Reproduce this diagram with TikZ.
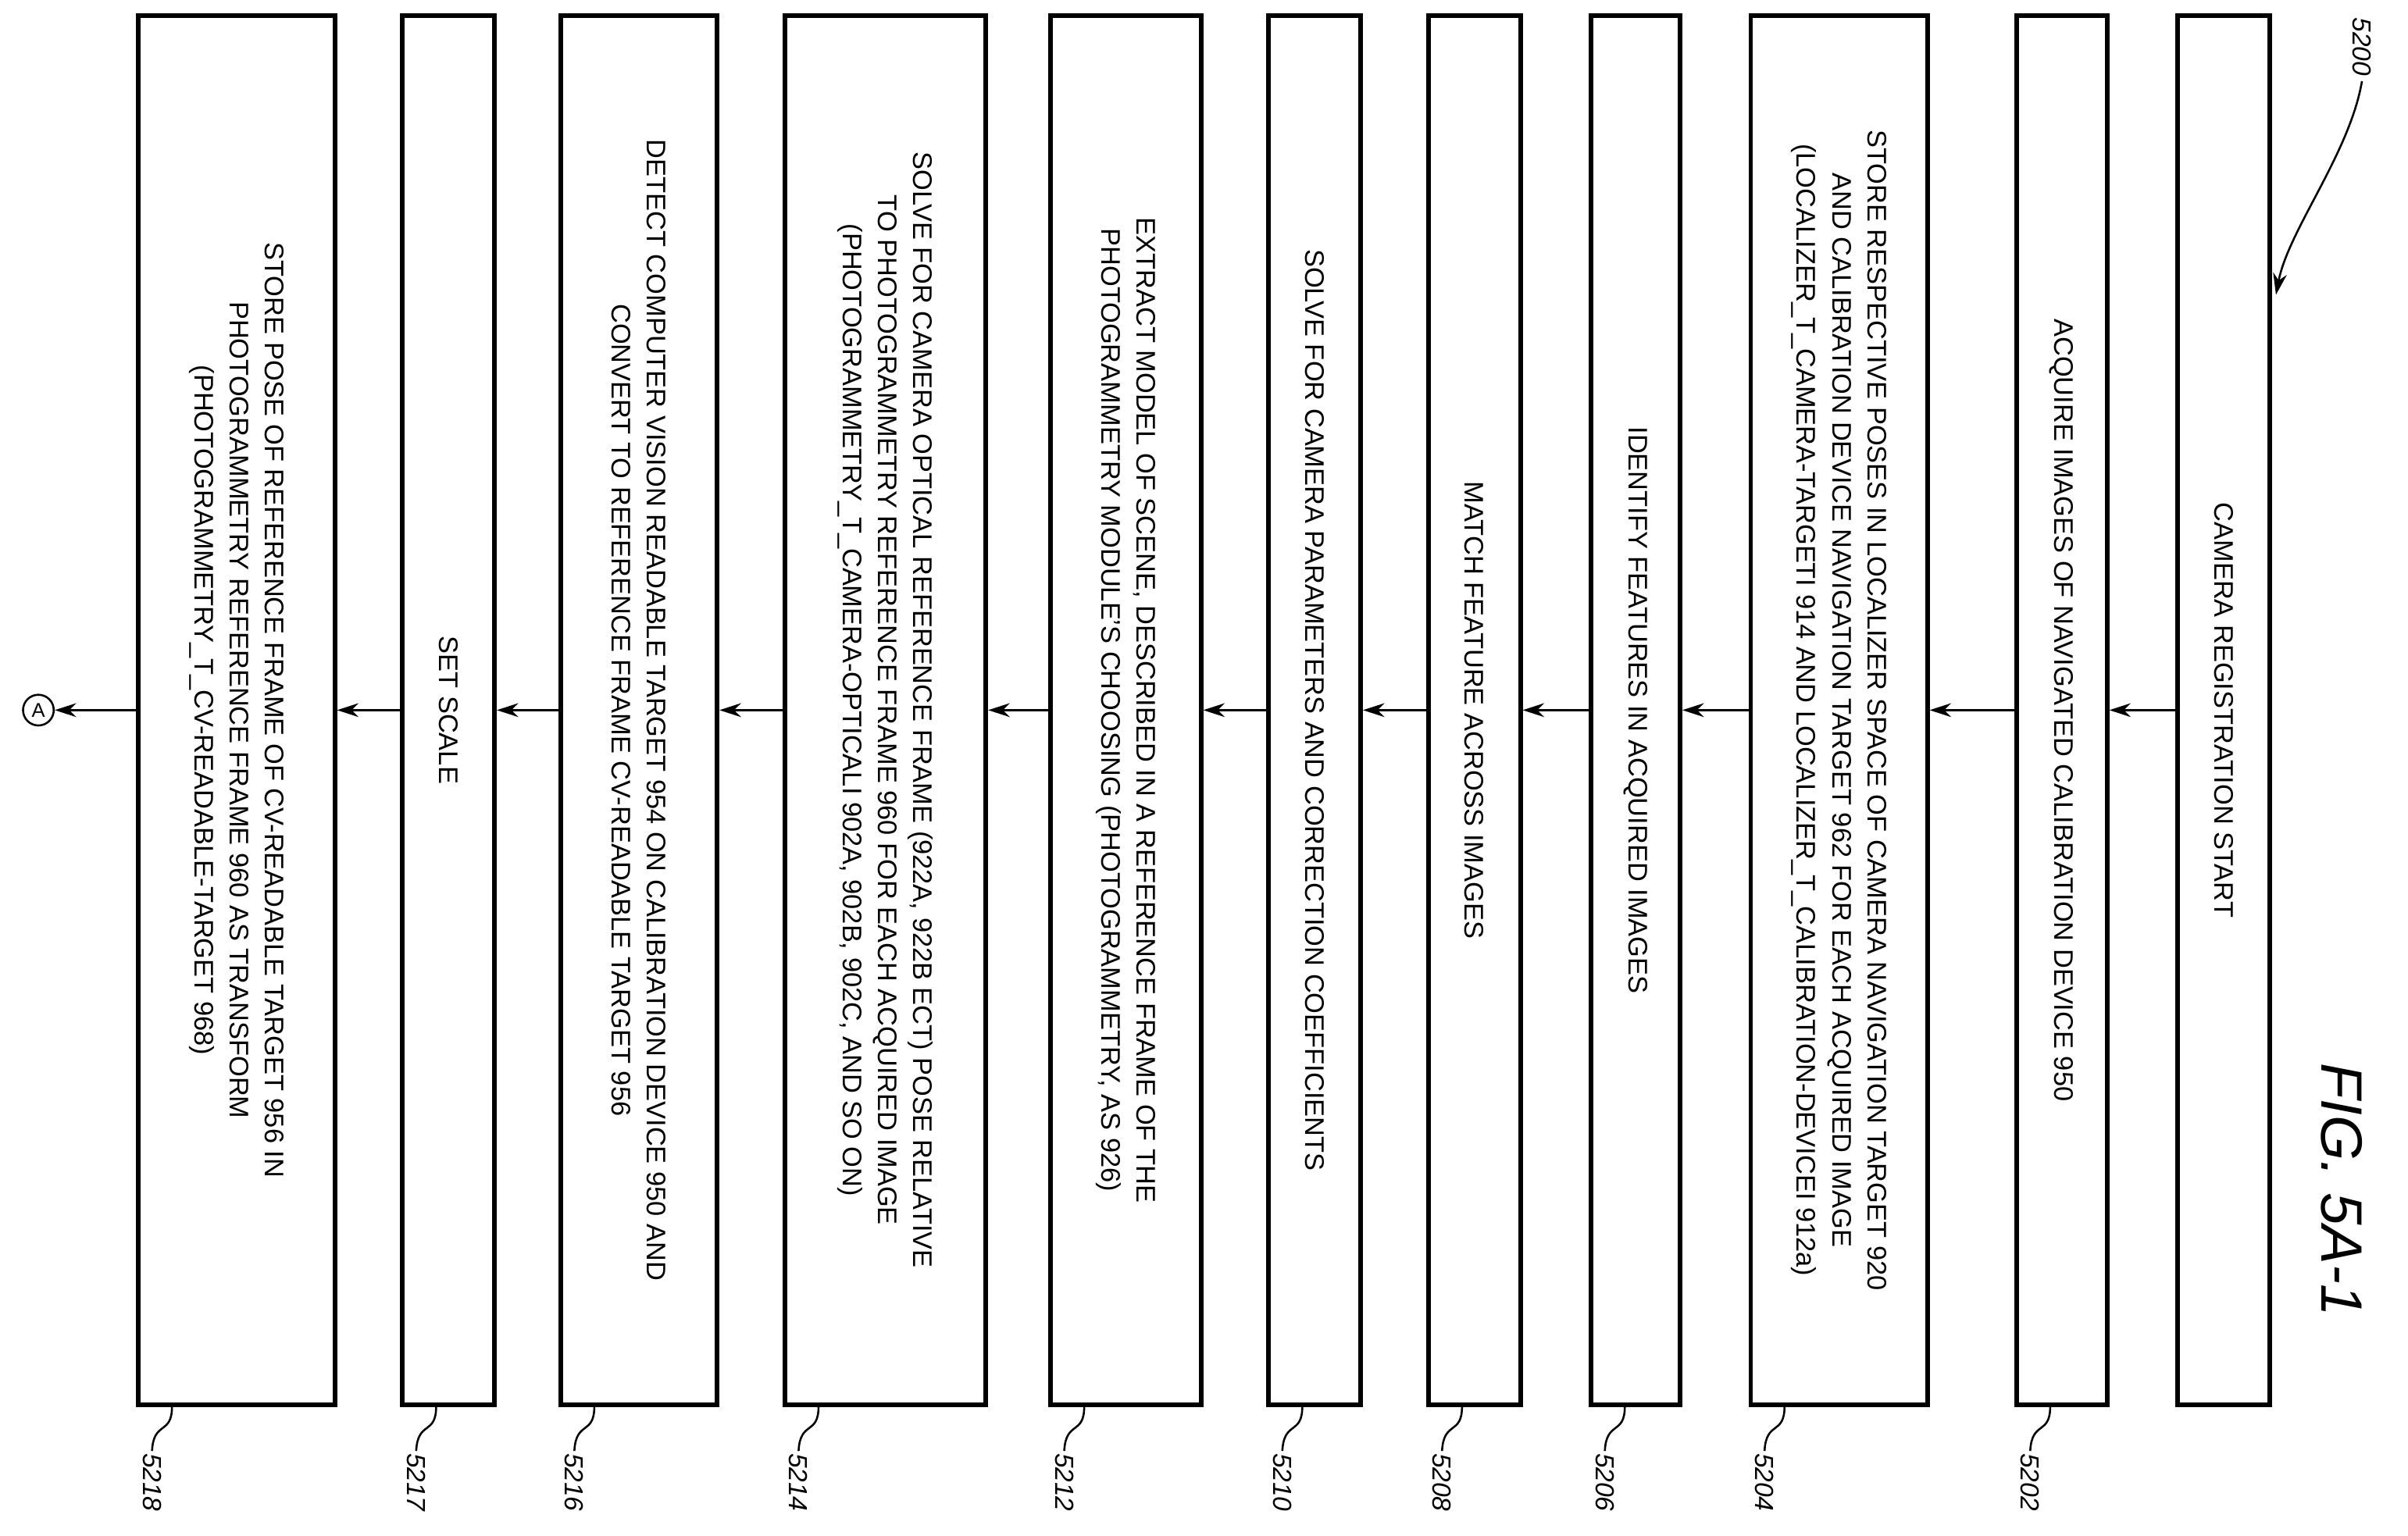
\documentclass[tikz,border=0pt]{standalone}
\usepackage{fontspec}
\setmainfont{Liberation Sans}
\usetikzlibrary{arrows.meta}
\tikzset{
  stepbox/.style={draw, line width=3pt, rotate=-90, minimum width=905pt, inner sep=2pt,
    align=center, font=\fontsize{17.5}{23}\selectfont},
  flow/.style={-{Stealth[length=14pt,width=9pt]}, line width=1.3pt},
  reflabel/.style={rotate=-90, anchor=west, font=\fontsize{17}{20}\selectfont\itshape},
  hook/.style={line width=1.3pt}
}
\begin{document}
\begin{tikzpicture}[x=1pt,y=-1pt]
\useasboundingbox (0,0) rectangle (1568,1000);
% boxes, right to left
\node[stepbox, minimum height=60pt] (b5200) at (1448,462.5) {CAMERA REGISTRATION START};
\node[stepbox, minimum height=59pt] (b5202) at (1342.5,462.5) {ACQUIRE IMAGES OF NAVIGATED CALIBRATION DEVICE 950};
\node[stepbox, minimum height=115pt] (b5204) at (1197.5,462.5) {STORE RESPECTIVE POSES IN LOCALIZER SPACE OF CAMERA NAVIGATION TARGET 920\\AND CALIBRATION DEVICE NAVIGATION TARGET 962 FOR EACH ACQUIRED IMAGE\\(LOCALIZER\_T\_CAMERA-TARGETI 914 AND LOCALIZER\_T\_CALIBRATION-DEVICEI 912a)};
\node[stepbox, minimum height=58pt] (b5206) at (1065,462.5) {IDENTIFY FEATURES IN ACQUIRED IMAGES};
\node[stepbox, minimum height=60pt] (b5208) at (960,462.5) {MATCH FEATURE ACROSS IMAGES};
\node[stepbox, minimum height=60pt] (b5210) at (856,462.5) {SOLVE FOR CAMERA PARAMETERS AND CORRECTION COEFFICIENTS};
\node[stepbox, minimum height=98pt] (b5212) at (733,462.5) {EXTRACT MODEL OF SCENE, DESCRIBED IN A REFERENCE FRAME OF THE\\PHOTOGRAMMETRY MODULE'S CHOOSING (PHOTOGRAMMETRY, AS 926)};
\node[stepbox, minimum height=131pt] (b5214) at (576.5,462.5) {SOLVE FOR CAMERA OPTICAL REFERENCE FRAME (922A, 922B ECT) POSE RELATIVE\\TO PHOTOGRAMMETRY REFERENCE FRAME 960 FOR EACH ACQUIRED IMAGE\\(PHOTOGRAMMETRY\_T\_CAMERA-OPTICALI 902A, 902B, 902C, AND SO ON)};
\node[stepbox, minimum height=102pt] (b5216) at (416,462.5) {DETECT COMPUTER VISION READABLE TARGET 954 ON CALIBRATION DEVICE 950 AND\\CONVERT TO REFERENCE FRAME CV-READABLE TARGET 956};
\node[stepbox, minimum height=60pt] (b5217) at (292,462.5) {SET SCALE};
\node[stepbox, minimum height=128pt] (b5218) at (154,462.5) {STORE POSE OF REFERENCE FRAME OF CV-READABLE TARGET 956 IN\\PHOTOGRAMMETRY REFERENCE FRAME 960 AS TRANSFORM\\(PHOTOGRAMMETRY\_T\_CV-READABLE-TARGET 968)};
\node[draw, circle, line width=1.3pt, inner sep=0pt, minimum size=20pt, font=\fontsize{13}{13}\selectfont] (endA) at (25,462.5) {A};
% connectors
\draw[flow] (b5200.south) -- (b5202.north);
\draw[flow] (b5202.south) -- (b5204.north);
\draw[flow] (b5204.south) -- (b5206.north);
\draw[flow] (b5206.south) -- (b5208.north);
\draw[flow] (b5208.south) -- (b5210.north);
\draw[flow] (b5210.south) -- (b5212.north);
\draw[flow] (b5212.south) -- (b5214.north);
\draw[flow] (b5214.south) -- (b5216.north);
\draw[flow] (b5216.south) -- (b5217.north);
\draw[flow] (b5217.south) -- (b5218.north);
\draw[flow] (b5218.south) -- (endA);
% reference labels
\foreach \nm/\xx in {5202/1313,5204/1140,5206/1036,5208/930,5210/826,5212/684,5214/511,5216/365,5217/262,5218/90}{
  \coordinate (h\nm) at (\xx+22,916);
  \draw[hook] (h\nm) .. controls (\xx+22,935) and (\xx+10,925) .. (\xx+9,945);
  \node[reflabel] (l\nm) at (\xx+9,943) {\nm};
}
\node[reflabel] (l5200) at (1538,8) {5200};
\coordinate (t5200) at (1482,192);
\draw[hook, -{Stealth[length=14pt,width=9pt]}] (l5200.east) .. controls (1530,100) and (1490,150) .. (t5200);
\node[rotate=-90, font=\fontsize{38}{40}\selectfont\itshape] (fig) at (1525,775) {FIG. 5A-1};
\end{tikzpicture}
\end{document}
